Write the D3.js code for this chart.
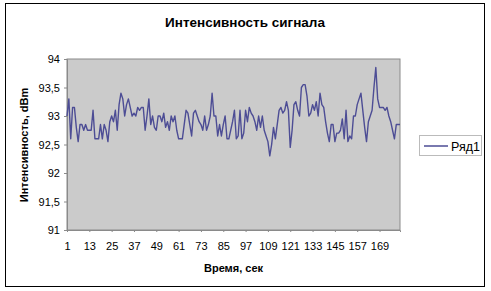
<!DOCTYPE html>
<html><head><meta charset="utf-8">
<script src="https://cdn.jsdelivr.net/npm/d3@7"></script>
<style>body{margin:0;background:#fff}svg{display:block;font-family:"Liberation Sans",Arial,sans-serif}</style>
</head><body><svg id="c" width="491" height="291"></svg>
<script>
const title = "Интенсивность сигнала";
const xTitle = "Время, сек";
const yTitle = "Интенсивность, dBm";
const seriesName = "Ряд1";
const yTicks = [91, 91.5, 92, 92.5, 93, 93.5, 94];
const xTickLabels = [1, 13, 25, 37, 49, 61, 73, 85, 97, 109, 121, 133, 145, 157, 169];
const values = [
93.0, 93.3, 92.6, 93.15, 93.15, 92.8, 92.55, 92.85, 92.85, 92.75,
92.85, 92.75, 92.75, 92.75, 93.1, 92.6, 92.6, 92.6, 92.85, 92.6,
92.85, 92.75, 92.55, 92.9, 93.0, 92.9, 93.1, 92.75, 93.2, 93.4,
93.3, 93.0, 93.2, 93.3, 93.15, 93.0, 93.05, 93.0, 93.15,
93.1, 93.15, 93.15, 92.75, 93.0, 93.3, 92.85, 93.0, 92.8, 92.75,
93.0, 93.0, 92.9, 93.05, 92.8, 92.9, 92.75, 93.0,
92.9, 93.0, 92.75, 92.6, 92.6, 92.6, 92.85, 93.1, 93.05, 92.85,
92.65, 93.05, 93.1, 93.0, 92.9, 92.85, 92.75, 93.0, 92.75,
92.85, 93.0, 93.4,
93.0, 93.0, 92.65, 92.85, 92.65, 92.85, 93.0, 92.6, 92.6, 92.75,
92.9, 93.1, 92.6, 92.65, 93.1, 92.6, 92.7, 93.1, 92.9, 93.15,
93.05, 93.0, 92.9, 92.75, 93.0, 92.8, 93.0, 92.75, 92.65, 92.55, 92.3,
92.5, 92.8, 92.6, 92.85, 93.1, 93.15, 93.05, 93.1, 93.25, 93.1,
92.45, 92.75, 93.2, 93.25, 93.1, 93.0, 93.5, 93.55, 93.55, 93.35,
93.0, 93.05, 93.2, 93.1, 93.25, 93.0, 93.4, 93.2, 93.15, 92.9,
92.7, 92.55, 92.85, 92.85, 92.55, 92.7, 92.7, 92.75, 92.95, 92.6,
93.1, 92.55, 92.65, 92.6, 93.0, 93.0, 93.2, 93.3, 93.4, 93.1,
92.8, 92.55, 92.9, 93.0, 93.1, 93.5, 93.85, 93.3, 93.15, 93.15,
93.15, 93.1, 93.15, 93.0, 92.9, 92.75, 92.6, 92.85, 92.85, 92.85
];

const svg = d3.select("#c");
const P = {l: 67, r: 400, t: 59, b: 230};

svg.append("rect").attr("x", 5.5).attr("y", 3.5).attr("width", 479).attr("height", 283)
  .attr("fill", "#fff").attr("stroke", "#000").attr("stroke-width", 1);

svg.append("text").attr("x", 245).attr("y", 27).attr("text-anchor", "middle")
  .attr("font-size", 13.5).attr("font-weight", "bold").text(title);

const x = d3.scaleLinear().domain([1, values.length]).range([P.l, P.r]);
const y = d3.scaleLinear().domain([91, 94]).range([P.b, P.t]);

svg.append("rect").attr("x", P.l).attr("y", P.t).attr("width", P.r - P.l).attr("height", P.b - P.t)
  .attr("fill", "#cbcbcb").attr("stroke", "#8a8a8a").attr("stroke-width", 1);

const yAxis = d3.axisLeft(y).tickValues(yTicks).tickSize(3)
  .tickFormat(d => String(d).replace(".", ","));
const gy = svg.append("g").attr("transform", `translate(${P.l},0)`).call(yAxis);
gy.select(".domain").attr("stroke", "#8a8a8a");
gy.selectAll(".tick line").attr("stroke", "#8a8a8a");
gy.selectAll("text").attr("font-size", 11).attr("fill", "#000").attr("x", -7)
  .attr("font-family", "Liberation Sans, Arial, sans-serif");

const xAxis = d3.axisBottom(x).tickValues(xTickLabels).tickSize(2).tickFormat(d => d);
const gx = svg.append("g").attr("transform", `translate(0,${P.b})`).call(xAxis);
gx.select(".domain").attr("stroke", "#8a8a8a");
gx.selectAll(".tick line").attr("stroke", "#8a8a8a");
gx.selectAll("text").attr("font-size", 11).attr("fill", "#000").attr("y", 12)
  .attr("font-family", "Liberation Sans, Arial, sans-serif");

const line = d3.line().x((d, i) => x(i + 1)).y(d => y(d));
svg.append("path").datum(values).attr("d", line).attr("fill", "none")
  .attr("stroke", "#4d4d95").attr("stroke-width", 1.4).attr("stroke-linejoin", "round");

svg.append("text").attr("x", (P.l + P.r) / 2).attr("y", 272).attr("text-anchor", "middle")
  .attr("font-size", 11).attr("font-weight", "bold").text(xTitle);

svg.append("text").attr("transform", "translate(28,145) rotate(-90)").attr("text-anchor", "middle")
  .attr("font-size", 11).attr("font-weight", "bold").text(yTitle);

const lg = svg.append("g");
lg.append("rect").attr("x", 419.5).attr("y", 135.5).attr("width", 62).attr("height", 20)
  .attr("fill", "#fff").attr("stroke", "#bbb").attr("stroke-width", 1);
lg.append("line").attr("x1", 424).attr("x2", 448).attr("y1", 146).attr("y2", 146)
  .attr("stroke", "#4d4d95").attr("stroke-width", 1.5);
lg.append("text").attr("x", 451).attr("y", 150.5).attr("font-size", 12.5).text(seriesName);
</script></body></html>
